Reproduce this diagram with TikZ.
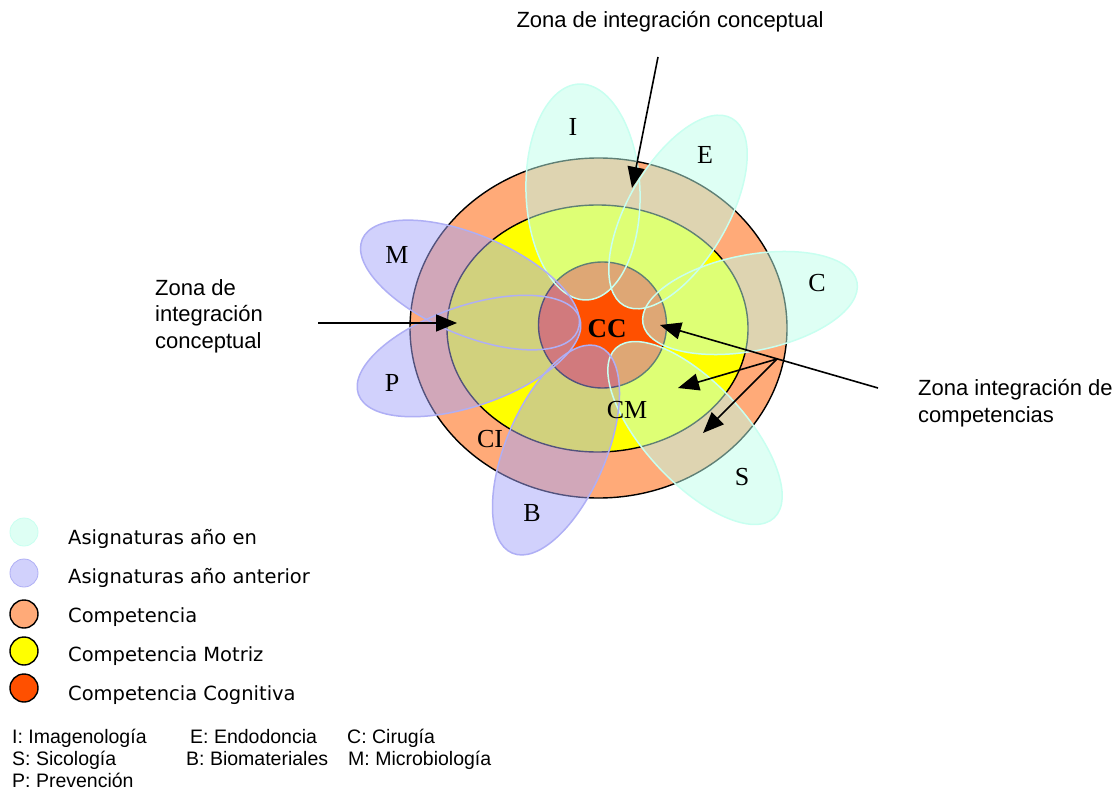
\documentclass[tikz,border=0pt]{standalone}
\usepackage{fontspec}
\setmainfont{Liberation Serif}
\newfontfamily\arialf{Liberation Sans}
\newfontfamily\verdf{DejaVu Sans}
\usetikzlibrary{arrows.meta}
\definecolor{orangec}{RGB}{255,170,120}
\definecolor{yellowc}{RGB}{255,255,0}
\definecolor{redc}{RGB}{255,80,0}
\definecolor{cyanf}{RGB}{190,255,235}
\definecolor{cyanb}{RGB}{200,255,240}
\definecolor{lavf}{RGB}{165,165,250}
\definecolor{lavb}{RGB}{175,175,245}
\begin{document}
\begin{tikzpicture}[x=1pt,y=1pt,
  cfill/.style={fill=cyanf},
  lfill/.style={fill=lavf},
  cline/.style={draw=cyanb, line width=1.5pt},
  lline/.style={draw=lavb, line width=1.5pt},
  ring/.style={draw=black, line width=1.4pt},
  lab/.style={font=\fontsize{26}{26}\selectfont, inner sep=0pt},
  sanstxt/.style={font=\arialf\fontsize{22}{26}\selectfont, inner sep=0pt},
  legtxt/.style={font=\verdf\fontsize{19.5}{22}\selectfont, inner sep=0pt, anchor=base west},
  keytxt/.style={font=\arialf\fontsize{19.5}{22}\selectfont, inner sep=0pt, anchor=base west},
  arr/.style={line width=1.6pt, -{Triangle[length=21pt,width=17pt]}},
  legdot/.style={circle, minimum size=28pt, inner sep=0pt}
]
\useasboundingbox (0,0) rectangle (1118,-791);
\fill[white] (0,0) rectangle (1118,-791);

% rings
\draw[ring, fill=orangec] (598.5,-328) ellipse [x radius=188.5, y radius=170];
\draw[ring, fill=yellowc] (597.5,-328.5) ellipse [x radius=150.5, y radius=123.5];
\draw[ring, fill=redc] (602.5,-325) ellipse [x radius=64, y radius=63];

% petal fills, as one half-transparent layer
\begin{scope}[transparency group, opacity=0.5]
\fill[cfill, rotate around={92:(583,-192)}] (583,-192) ellipse [x radius=108, y radius=57];
\fill[cfill, rotate around={60:(678,-212)}] (678,-212) ellipse [x radius=108, y radius=50];
\fill[cfill, rotate around={11:(750,-303)}] (750,-303) ellipse [x radius=109, y radius=48];
\fill[cfill, rotate around={-47:(695,-433)}] (695,-433) ellipse [x radius=116, y radius=50];
\fill[lfill, rotate around={67:(556,-450)}] (556,-450) ellipse [x radius=112, y radius=50];
\fill[lfill, rotate around={-23:(470,-285)}] (470,-285) ellipse [x radius=117, y radius=50];
\fill[lfill, rotate around={19:(469,-356)}] (469,-356) ellipse [x radius=117, y radius=50];
\end{scope}
% petal outlines
\draw[cline, rotate around={92:(583,-192)}] (583,-192) ellipse [x radius=108, y radius=57];
\draw[cline, rotate around={60:(678,-212)}] (678,-212) ellipse [x radius=108, y radius=50];
\draw[cline, rotate around={11:(750,-303)}] (750,-303) ellipse [x radius=109, y radius=48];
\draw[cline, rotate around={-47:(695,-433)}] (695,-433) ellipse [x radius=116, y radius=50];
\draw[lline, rotate around={67:(556,-450)}] (556,-450) ellipse [x radius=112, y radius=50];
\draw[lline, rotate around={-23:(470,-285)}] (470,-285) ellipse [x radius=117, y radius=50];
\draw[lline, rotate around={19:(469,-356)}] (469,-356) ellipse [x radius=117, y radius=50];

% labels
\node[lab] (lI) at (573,-127) {I};
\node[lab] (lE) at (705,-155) {E};
\node[lab] (lC) at (817,-283) {C};
\node[lab] (lS) at (742,-477) {S};
\node[lab] (lB) at (532,-513) {B};
\node[lab] (lM) at (397,-255) {M};
\node[lab] (lP) at (392,-383) {P};
\node[lab] (lCI) at (490,-439) {CI};
\node[lab] (lCM) at (627,-410) {CM};
\node[lab, font=\bfseries\fontsize{27}{27}\selectfont] (lCC) at (607,-329) {CC};

% annotation texts
\node[sanstxt, anchor=base] (ztop) at (670,-28) {Zona de integración conceptual};
\node[sanstxt, anchor=base west] (zl1) at (155,-296) {Zona de};
\node[sanstxt, anchor=base west] (zl2) at (155,-322) {integración};
\node[sanstxt, anchor=base west] (zl3) at (155,-348) {conceptual};
\node[sanstxt, anchor=base west] (zr1) at (918,-395) {Zona integración de};
\node[sanstxt, anchor=base west] (zr2) at (918,-422) {competencias};

% arrows
\coordinate (a1s) at (658,-57);
\coordinate (a1e) at (632,-188);
\coordinate (a2s) at (318,-323);
\coordinate (a2e) at (457,-323);
\coordinate (a3s) at (878,-388);
\coordinate (a3e) at (660,-325);
\coordinate (br) at (777,-359);
\coordinate (b1e) at (678,-388);
\coordinate (b2e) at (703,-433);
\draw[arr] (a1s) -- (a1e);
\draw[arr] (a2s) -- (a2e);
\draw[arr] (a3s) -- (a3e);
\draw[arr] (br) -- (b1e);
\draw[arr] (br) -- (b2e);

% legend
\node[legdot, fill=cyanf, fill opacity=0.5, draw=cyanb, line width=0.8pt] (d1) at (24,-532) {};
\node[legdot, fill=lavf, fill opacity=0.5, draw=lavb, line width=0.8pt] (d2) at (24,-573) {};
\node[legdot, fill=orangec, draw=black, line width=1.4pt] (d3) at (24,-614) {};
\node[legdot, fill=yellowc, draw=black, line width=1.4pt] (d4) at (24,-651) {};
\node[legdot, fill=redc, draw=black, line width=1.4pt] (d5) at (24,-688) {};
\node[legtxt] (t1) at (68,-544) {Asignaturas año en};
\node[legtxt] (t2) at (68,-583) {Asignaturas año anterior};
\node[legtxt] (t3) at (68,-622) {Competencia};
\node[legtxt] (t4) at (68,-661) {Competencia Motriz};
\node[legtxt] (t5) at (68,-700) {Competencia Cognitiva};

\node[keytxt] (k1) at (12,-743) {I: Imagenología};
\node[keytxt] (k2) at (190,-743) {E: Endodoncia};
\node[keytxt] (k3) at (347,-743) {C: Cirugía};
\node[keytxt] (k4) at (12,-765) {S: Sicología};
\node[keytxt] (k5) at (186,-765) {B: Biomateriales};
\node[keytxt] (k6) at (348,-765) {M: Microbiología};
\node[keytxt] (k7) at (12,-787) {P: Prevención};
\end{tikzpicture}
\end{document}
